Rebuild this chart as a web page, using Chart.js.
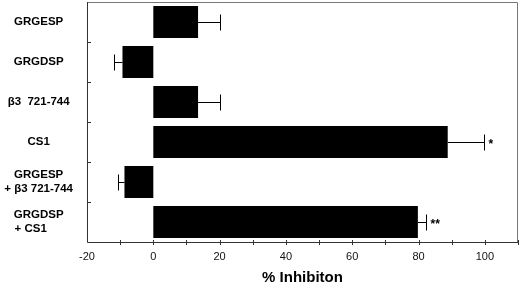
<!DOCTYPE html>
<html>
<head>
<meta charset="utf-8">
<script src="https://cdn.jsdelivr.net/npm/chart.js@4.4.1/dist/chart.umd.min.js"></script>
<style>
  html, body { margin: 0; padding: 0; background: #fff; }
  #wrap { width: 520px; height: 286px; }
</style>
</head>
<body>
<div id="wrap"><canvas id="myChart" width="520" height="286"></canvas></div>
<script>
// data block
const categories = [
  'GRGESP',
  'GRGDSP',
  'β3  721-744',
  'CS1',
  ['GRGESP', '+ β3 721-744'],
  ['GRGDSP', '+ CS1     ']
];
const inhibition = [13.5, -9.3, 13.5, 88.8, -8.7, 79.8];
const errorEnds = [20, -12, 20, 99.7, -10.8, 82.2];
const signif = ['', '', '', '*', '', '**'];
const xTicks = [-20, 0, 20, 40, 60, 80, 100];

// error bars + stars
const errorBars = {
  id: 'errorBars',
  afterDatasetsDraw(chart) {
    const { ctx, scales: { x, y } } = chart;
    ctx.save();
    ctx.strokeStyle = '#000';
    ctx.lineWidth = 1;
    inhibition.forEach((v, i) => {
      const x0 = x.getPixelForValue(v);
      const x1 = Math.round(x.getPixelForValue(errorEnds[i])) + 0.5;
      const yc = Math.round(y.getPixelForValue(i)) + 0.5;
      ctx.beginPath();
      ctx.moveTo(x0, yc);
      ctx.lineTo(x1, yc);
      ctx.moveTo(x1, yc - 8);
      ctx.lineTo(x1, yc + 8);
      ctx.stroke();
      if (signif[i]) {
        ctx.fillStyle = '#000';
        ctx.font = 'bold 12px "Liberation Sans", Arial, sans-serif';
        ctx.textAlign = 'left';
        ctx.textBaseline = 'middle';
        ctx.fillText(signif[i], x1 + 4, yc + 2);
      }
    });
    ctx.restore();
  }
};

// frame + inward ticks
const frame = {
  id: 'frame',
  afterDraw(chart) {
    const { ctx, chartArea: { top, bottom, left, right }, scales: { x, y } } = chart;
    ctx.save();
    ctx.strokeStyle = '#777';
    ctx.lineWidth = 1;
    ctx.beginPath();
    ctx.moveTo(left, top + 0.5);
    ctx.lineTo(right - 0.5, top + 0.5);
    ctx.lineTo(right - 0.5, bottom);
    ctx.stroke();

    ctx.strokeStyle = '#333';
    ctx.beginPath();
    ctx.moveTo(left + 0.5, top);
    ctx.lineTo(left + 0.5, bottom + 0.5);
    ctx.lineTo(right, bottom + 0.5);
    for (let i = 0; i < categories.length - 1; i++) {
      const yy = Math.round(y.getPixelForValue(i + 0.5)) + 0.5;
      ctx.moveTo(left, yy);
      ctx.lineTo(left + 4, yy);
    }
    for (let v = -10; v <= 110; v += 10) {
      const xx = Math.round(x.getPixelForValue(v)) + 0.5;
      ctx.moveTo(xx, bottom - 2);
      ctx.lineTo(xx, bottom + 3);
    }
    ctx.stroke();
    ctx.restore();
  }
};

const data = {
  labels: categories,
  datasets: [{
    data: inhibition,
    backgroundColor: '#000',
    borderWidth: 0,
    barPercentage: 0.8,
    categoryPercentage: 1.0
  }]
};

const config = {
  type: 'bar',
  data: data,
  options: {
    indexAxis: 'y',
    responsive: false,
    animation: false,
    layout: { padding: { top: 2, right: 2, left: 0, bottom: 0 } },
    plugins: {
      legend: { display: false },
      tooltip: { enabled: false }
    },
    scales: {
      x: {
        min: -20,
        max: 110,
        afterFit: s => {
          s.height = 44;
          s.paddingLeft = 0;
          s.paddingRight = 0;
        },
        afterBuildTicks: s => { s.ticks = xTicks.map(v => ({ value: v })); },
        grid: { display: false, drawTicks: false },
        border: { display: false },
        ticks: {
          color: '#111',
          padding: 8,
          maxRotation: 0,
          font: { family: '"Liberation Sans", Arial, sans-serif', size: 11 }
        },
        title: {
          display: true,
          text: '% Inhibiton',
          color: '#000',
          padding: { top: 4, bottom: -1 },
          font: { family: '"Liberation Sans", Arial, sans-serif', size: 15, weight: 'bold' }
        }
      },
      y: {
        afterFit: s => {
          s.width = 87;
          s.paddingTop = 0;
          s.paddingBottom = 0;
        },
        grid: { display: false, drawTicks: false },
        border: { display: false },
        ticks: {
          color: '#000',
          padding: 14,
          crossAlign: 'center',
          font: { family: '"Liberation Sans", Arial, sans-serif', size: 11.5, weight: 'bold' }
        }
      }
    }
  },
  plugins: [errorBars, frame]
};

const myChart = new Chart(document.getElementById('myChart'), config);
</script>
</body>
</html>
